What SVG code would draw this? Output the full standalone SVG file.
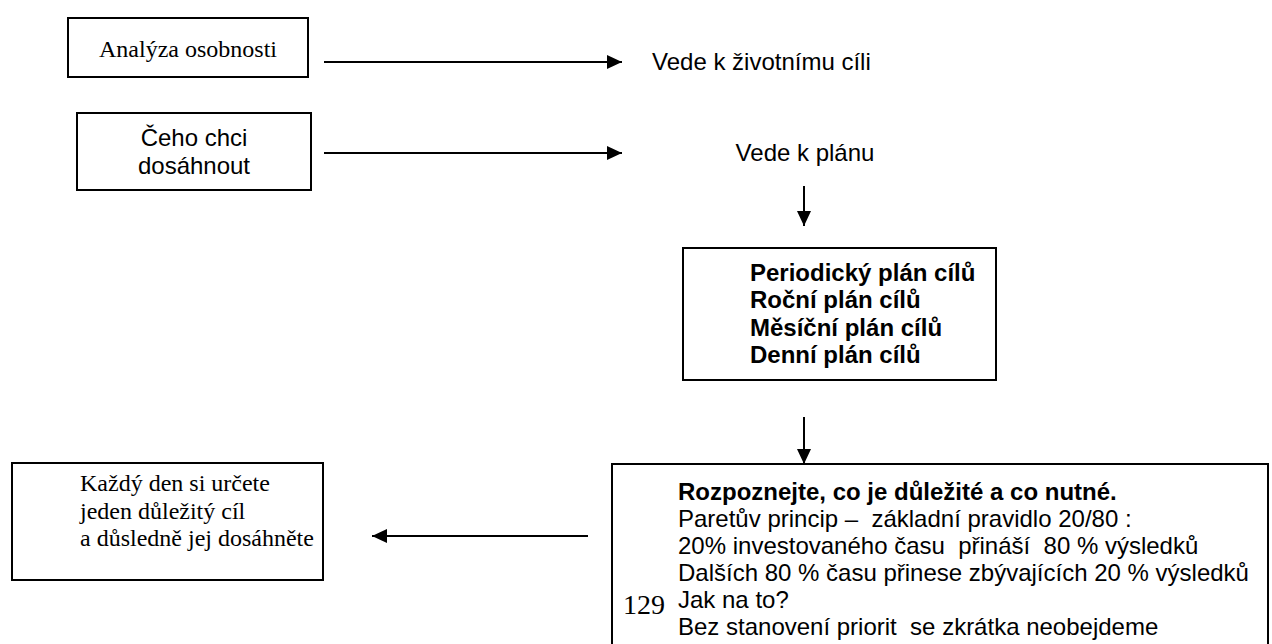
<svg xmlns="http://www.w3.org/2000/svg" width="1272" height="644" viewBox="0 0 1272 644">
<style>
.box{fill:#fff;stroke:#000;stroke-width:2}
.ln{stroke:#000;stroke-width:2;fill:none}
.serif{font-family:"Liberation Serif","Times New Roman",serif;font-size:24px;fill:#000}
.sans{font-family:"Liberation Sans",Arial,sans-serif;font-size:24px;fill:#000}
.b{font-weight:bold}
text{white-space:pre}
</style>
<defs>
<marker id="ah" viewBox="0 0 15 14" refX="15" refY="7" markerWidth="15" markerHeight="14" markerUnits="userSpaceOnUse" orient="auto">
<path d="M0,0 L15,7 L0,14 Z" fill="#000"/>
</marker>
</defs>
<rect width="1272" height="644" fill="#fff"/>
<g id="connectors">
<line class="ln" x1="324" y1="62" x2="622" y2="62" marker-end="url(#ah)"/>
<line class="ln" x1="324" y1="153" x2="622" y2="153" marker-end="url(#ah)"/>
<line class="ln" x1="804" y1="186" x2="804" y2="226" marker-end="url(#ah)"/>
<line class="ln" x1="804" y1="417" x2="804" y2="464" marker-end="url(#ah)"/>
<line class="ln" x1="588" y1="536" x2="372" y2="536" marker-end="url(#ah)"/>
</g>
<g id="n-analyza">
<rect class="box" x="68" y="18" width="240" height="59"/>
<text class="serif" x="188" y="57" text-anchor="middle">Analýza osobnosti</text>
</g>
<g id="n-ceho">
<rect class="box" x="77" y="113" width="234" height="77"/>
<text class="sans" x="194" y="146" text-anchor="middle">Čeho chci</text>
<text class="sans" x="194" y="174" text-anchor="middle">dosáhnout</text>
</g>
<g id="n-vede1">
<text class="sans" x="652" y="70">Vede k životnímu cíli</text>
</g>
<g id="n-vede2">
<text class="sans" x="805" y="161" text-anchor="middle">Vede k plánu</text>
</g>
<g id="n-plany">
<rect class="box" x="683" y="248" width="313" height="132"/>
<text class="sans b" x="750" y="281">Periodický plán cílů</text>
<text class="sans b" x="750" y="308">Roční plán cílů</text>
<text class="sans b" x="750" y="336">Měsíční plán cílů</text>
<text class="sans b" x="750" y="363">Denní plán cílů</text>
</g>
<g id="n-kazdy">
<rect class="box" x="12" y="463" width="311" height="117"/>
<text class="serif" x="80" y="491">Každý den si určete</text>
<text class="serif" x="80" y="518.5">jeden důležitý cíl</text>
<text class="serif" x="80" y="546">a důsledně jej dosáhněte</text>
</g>
<g id="n-rozpoznejte">
<rect class="box" x="612" y="464" width="656" height="200"/>
<text class="sans b" x="678" y="500">Rozpoznejte, co je důležité a co nutné.</text>
<text class="sans" x="678" y="527">Paretův princip –  základní pravidlo 20/80 :</text>
<text class="sans" x="678" y="554">20% investovaného času  přináší  80 % výsledků</text>
<text class="sans" x="678" y="581">Dalších 80 % času přinese zbývajících 20 % výsledků</text>
<text class="sans" x="678" y="608">Jak na to?</text>
<text class="sans" x="678" y="635">Bez stanovení priorit  se zkrátka neobejdeme</text>
</g>
<g id="page-number">
<text class="serif" x="623" y="614" style="font-size:28px">129</text>
</g>
</svg>
